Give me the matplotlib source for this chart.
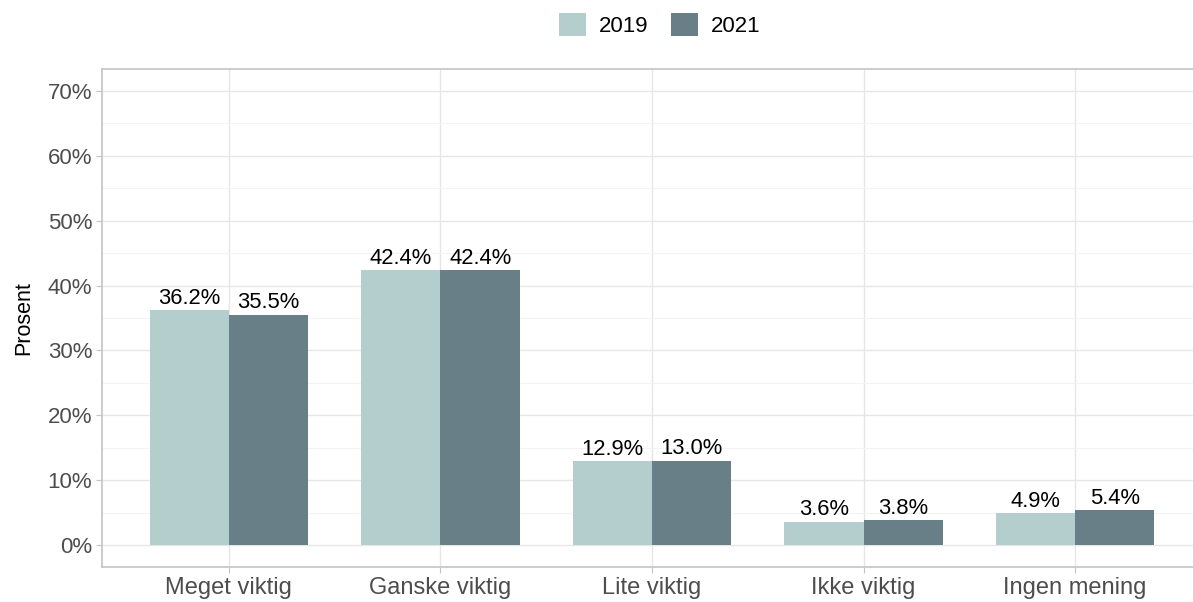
import numpy as np
import matplotlib.pyplot as plt
from matplotlib.patches import Patch
from matplotlib.ticker import MultipleLocator, FuncFormatter

plt.rcParams['font.family'] = ['Liberation Sans', 'DejaVu Sans']

categories = ['Meget viktig', 'Ganske viktig', 'Lite viktig', 'Ikke viktig', 'Ingen mening']
years = ['2019', '2021']
share_2019 = [36.2, 42.4, 12.9, 3.6, 4.9]
share_2021 = [35.5, 42.4, 13.0, 3.8, 5.4]
colors = ['#b4cdcd', '#687f88']

fig = plt.figure(figsize=(11.93, 6.02), dpi=100)
ax = fig.add_axes([102 / 1193, 35 / 602, 1100 / 1193, 498 / 602])

x = np.arange(1, len(categories) + 1)
w = 0.375
for i, (vals, col) in enumerate(zip([share_2019, share_2021], colors)):
    pos = x + (i - 0.5) * w
    ax.bar(pos, vals, width=w, color=col, zorder=2)
    for p, v in zip(pos, vals):
        ax.text(p, v + 0.2, f'{v:.1f}%', ha='center', va='bottom',
                fontsize=15.8, color='black', zorder=3)

ax.set_xlim(0.4, 5.6)
ax.set_ylim(-3.4, 73.4)
ax.set_xticks(x)
ax.set_xticklabels(categories)
ax.yaxis.set_major_locator(MultipleLocator(10))
ax.yaxis.set_minor_locator(MultipleLocator(5))
ax.yaxis.set_major_formatter(FuncFormatter(lambda v, _: f'{v:.0f}%'))

# light theme look
ax.grid(which='major', color='#e6e6e6', linewidth=1.0, zorder=0)
ax.grid(which='minor', axis='y', color='#f3f3f3', linewidth=0.8, zorder=0)
for s in ax.spines.values():
    s.set_color('#c4c4c4')
    s.set_linewidth(1.2)
ax.tick_params(which='major', length=4, color='#c4c4c4', labelsize=16,
               labelcolor='#4d4d4d', pad=3)
ax.tick_params(axis='x', labelsize=17)
ax.tick_params(which='minor', length=0)
ax.set_ylabel('Prosent', fontsize=15.5, color='black', labelpad=10)

handles = [Patch(facecolor=c, label=y) for c, y in zip(colors, years)]
fig.legend(handles=handles, loc='center', bbox_to_anchor=(660 / 1193, 1 - 25 / 602),
           ncol=2, frameon=False, fontsize=16, handlelength=1.2, handleheight=1.2,
           handletextpad=0.6, columnspacing=1.0)

fig.savefig('out.png', dpi=100)
